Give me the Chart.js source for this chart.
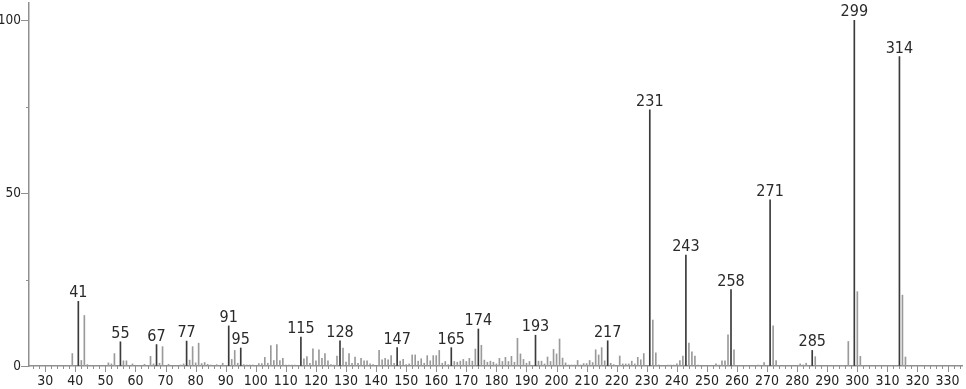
<!DOCTYPE html>
<html>
<head>
<meta charset="utf-8">
<script src="https://cdn.jsdelivr.net/npm/chart.js@4.4.1/dist/chart.umd.min.js"></script>
<style>
html,body{margin:0;padding:0;background:#fff;}
#wrap{width:966px;height:389px;}
</style>
</head>
<body>
<div id="wrap"><canvas id="c" width="966" height="389"></canvas></div>
<script>
// m/z values and relative intensities
const mz = [39,41,42,43,44,51,52,53,55,56,57,59,63,65,66,67,68,69,71,75,76,77,78,79,80,81,82,83,84,85,87,89,
  91,92,93,94,95,96,97,98,99,101,102,103,104,105,106,107,108,109,110,111,112,113,115,116,117,118,119,120,
  121,122,123,124,125,126,127,128,129,130,131,132,133,134,135,136,137,138,139,141,142,143,144,145,146,147,
  148,149,150,151,152,153,154,155,156,157,158,159,160,161,162,163,164,165,166,167,168,169,170,171,172,173,
  174,175,176,177,178,179,180,181,182,183,184,185,186,187,188,189,190,191,193,194,195,196,197,198,199,200,
  201,202,203,204,205,206,207,208,209,210,211,212,213,214,215,216,217,218,219,221,222,223,224,225,226,227,
  228,229,231,232,233,234,237,238,239,240,241,242,243,244,245,246,247,253,254,255,256,257,258,259,260,267,
  269,271,272,273,274,281,282,283,285,286,287,295,297,299,300,301,302,314,315,316,317];
const intensity = [3.6,18.7,1.6,14.6,0.4,0.9,0.6,3.6,7.0,1.5,1.5,0.6,0.5,2.8,0.6,6.2,0.8,5.6,0.5,0.3,0.6,7.2,1.7,5.6,0.9,6.6,0.7,1.0,0.5,0.3,0.4,0.8,
  11.6,1.9,4.5,0.8,5.2,0.4,0.3,0.3,0.3,0.7,0.7,2.5,0.8,5.9,1.6,6.2,1.6,2.2,0.3,0.3,0.3,0.3,8.4,2.1,2.7,0.8,5.0,1.5,
  4.7,2.2,3.6,1.5,0.4,0.3,2.9,7.3,5.2,1.1,3.6,0.8,2.6,0.8,2.2,1.5,1.5,0.6,0.4,4.5,1.8,2.2,1.8,3.0,0.8,5.3,
  1.4,1.9,0.4,0.6,3.2,3.2,1.4,2.1,0.8,3.0,1.5,3.0,3.0,4.5,0.8,1.3,0.4,5.3,1.3,1.1,1.4,1.9,1.3,2.2,1.4,4.9,
  10.7,6.0,1.7,1.1,1.4,1.1,0.6,2.2,1.3,2.5,1.3,2.8,1.1,8.0,3.5,1.9,0.8,1.3,8.9,1.4,1.4,0.6,2.6,1.3,4.8,3.5,
  7.8,2.3,0.9,0.3,0.3,0.3,1.6,0.3,0.7,0.7,1.6,1.0,4.7,3.2,5.3,1.5,7.3,0.8,0.4,2.9,0.6,0.6,0.6,1.4,0.6,2.5,
  1.8,3.6,74.1,13.3,3.8,0.3,0.3,0.3,0.3,0.6,1.6,2.9,32.1,6.6,4.1,2.9,0.3,0.6,0.3,1.5,1.5,9.0,22.1,4.7,0.2,0.3,
  1.0,48.1,11.6,1.6,0.2,0.6,0.3,0.8,4.5,2.7,0.2,0.2,7.1,100,21.5,2.8,0.2,89.5,20.5,2.6,0.2];
// peaks that carry a label
const labeledPeaks = [41,55,67,77,91,95,115,128,147,165,174,193,217,231,243,258,271,285,299,314];
// axis ticks
const xTicks = []; for (let v = 26; v <= 334; v += 2) xTicks.push(v);
const xLabelEvery = 10;
const yTicks = [0,25,50,75,100];
const yLabels = [0,50,100];

const FONT = '"Liberation Sans Narrow","DejaVu Sans Condensed","Liberation Sans",sans-serif';
const AXIS_COLOR = '#8f8f8f';

const points = mz.map((m,i)=>({x:m, y:intensity[i]}));

const tickPlugin = {
  id:'tickPlugin',
  afterDraw(chart){
    const ctx = chart.ctx, xs = chart.scales.x, ys = chart.scales.y, area = chart.chartArea;
    ctx.save();
    ctx.strokeStyle = AXIS_COLOR;
    ctx.lineWidth = 1;
    xs.ticks.forEach(t=>{
      const px = Math.round(xs.getPixelForValue(t.value))+0.5;
      const len = (t.value % xLabelEvery === 0) ? 6 : 3;
      ctx.beginPath(); ctx.moveTo(px, area.bottom); ctx.lineTo(px, area.bottom+len); ctx.stroke();
    });
    ys.ticks.forEach(t=>{
      const py = Math.round(ys.getPixelForValue(t.value))+0.5;
      const len = yLabels.includes(t.value) ? 8 : 3;
      ctx.beginPath(); ctx.moveTo(area.left, py); ctx.lineTo(area.left-len, py); ctx.stroke();
    });
    // peak labels
    ctx.fillStyle = '#2a2a2a';
    ctx.font = '16px ' + FONT;
    ctx.textAlign = 'center';
    ctx.textBaseline = 'alphabetic';
    labeledPeaks.forEach(m=>{
      const i = mz.indexOf(m);
      if (i < 0) return;
      const px = xs.getPixelForValue(m);
      const py = ys.getPixelForValue(intensity[i]);
      ctx.fillText(String(m), px, py - 4);
    });
    ctx.restore();
  }
};

new Chart(document.getElementById('c'), {
  type:'bar',
  data:{ datasets:[{
    data: points,
    backgroundColor: ctx => labeledPeaks.includes(ctx.raw && ctx.raw.x) ? '#3a3a3a' : '#9a9a9a',
    barThickness: 1,
    borderWidth: 0
  }]},
  options:{
    responsive:false,
    animation:false,
    devicePixelRatio:1,
    layout:{padding:{top:3,right:4,left:0,bottom:0}},
    plugins:{legend:{display:false}, tooltip:{enabled:false}},
    scales:{
      x:{
        type:'linear', min:24.6, max:334.8, offset:false,
        afterBuildTicks: s => { s.ticks = xTicks.map(v=>({value:v})); },
        afterFit: s => { s.height = 23; s.paddingLeft = 0; s.paddingRight = 0; },
        grid:{drawOnChartArea:false, color:'transparent', tickLength:6},
        border:{display:true, color:AXIS_COLOR, width:1.5},
        ticks:{
          autoSkip:false, maxRotation:0, padding:1, color:'#222',
          font:{family:FONT, size:14},
          callback: v => (v % xLabelEvery === 0) ? String(v) : ''
        }
      },
      y:{
        type:'linear', min:0, max:105,
        afterBuildTicks: s => { s.ticks = yTicks.map(v=>({value:v})); },
        afterFit: s => { s.width = 29; s.paddingTop = 0; s.paddingBottom = 0; },
        grid:{drawOnChartArea:false, color:'transparent', tickLength:8},
        border:{display:true, color:AXIS_COLOR, width:1.5},
        ticks:{
          autoSkip:false, padding:0, color:'#222',
          font:{family:FONT, size:13.5},
          callback: v => yLabels.includes(v) ? String(v) : ''
        }
      }
    }
  },
  plugins:[tickPlugin]
});
</script>
</body>
</html>
